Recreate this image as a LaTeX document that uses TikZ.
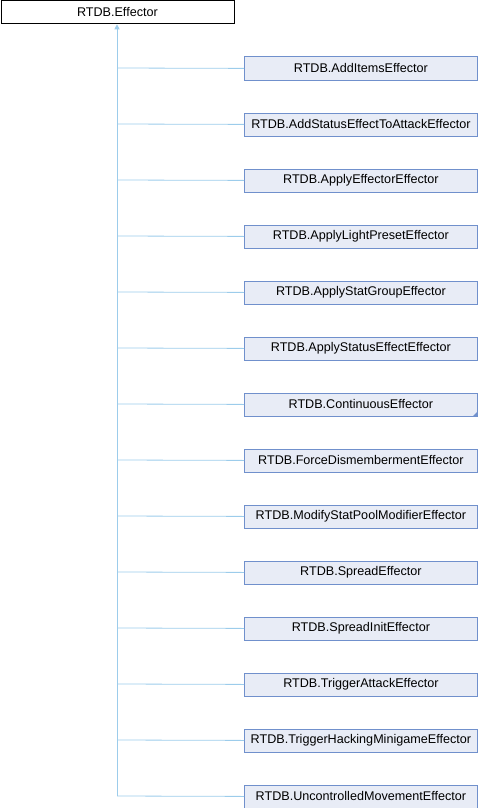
\documentclass[tikz,border=0pt]{standalone}
\usepackage{fontspec}
\setmainfont{Liberation Sans}
\usetikzlibrary{arrows.meta}
\definecolor{boxfill}{HTML}{E8ECF6}
\definecolor{boxdraw}{HTML}{7090CC}
\definecolor{edgecol}{HTML}{9CCCEB}
\begin{document}
\begin{tikzpicture}[x=1pt,y=-1pt,
  base/.style={minimum width=233pt,minimum height=23pt,inner sep=0pt,anchor=north west,font=\fontsize{12.6}{14}\selectfont},
  rootbox/.style={base,draw=black,fill=white,line width=0.8pt},
  childbox/.style={base,draw=boxdraw,fill=boxfill,line width=0.8pt},
  edge/.style={draw=edgecol,line width=0.8pt}]
\useasboundingbox (0,0) rectangle (478,808);
\node[rootbox] (top) at (0.5,0.5) {RTDB.Effector};
\foreach \i/\t in {1/AddItemsEffector,2/AddStatusEffectToAttackEffector,3/ApplyEffectorEffector,4/ApplyLightPresetEffector,5/ApplyStatGroupEffector,6/ApplyStatusEffectEffector,7/ContinuousEffector,8/ForceDismembermentEffector,9/ModifyStatPoolModifierEffector,10/SpreadEffector,11/SpreadInitEffector,12/TriggerAttackEffector,13/TriggerHackingMinigameEffector,14/UncontrolledMovementEffector}{
  \node[childbox] (c\i) at (244,{0.5+56*\i}) {RTDB.\t};
  \coordinate (j\i) at (117,{68+56*(\i-1)});
  \draw[edge] (j\i) -- (c\i.west);
}
\fill[boxdraw] (c7.south east) ++(-5,0) -- ++(5,-5) -- ++(0,5) -- cycle;
\draw[edge,-{Triangle[width=5pt,length=5pt]}] (j14) -- (top.south -| j14);
\end{tikzpicture}
\end{document}
